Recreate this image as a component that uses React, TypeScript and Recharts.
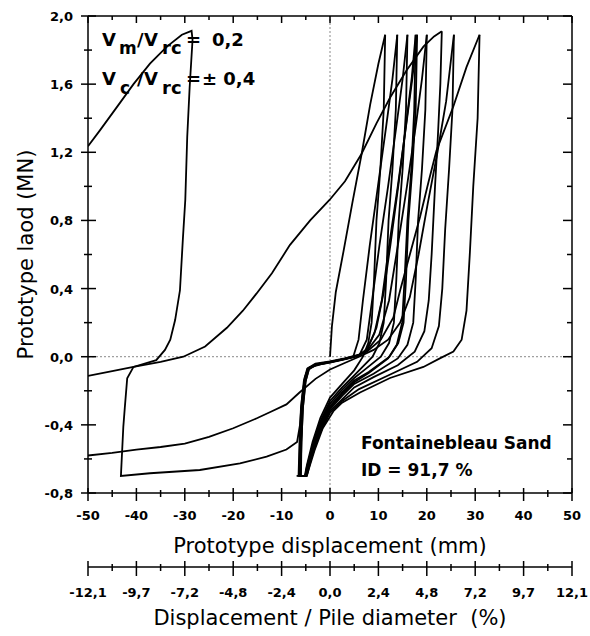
import { Label, Line, LineChart, ReferenceLine, XAxis, YAxis } from 'recharts';

type Pt = [number, number];

// axes
const X_TICKS = [-50, -45, -40, -35, -30, -25, -20, -15, -10, -5, 0, 5, 10, 15, 20, 25, 30, 35, 40, 45, 50];
const Y_TICKS = [-0.8, -0.6, -0.4, -0.2, 0, 0.2, 0.4, 0.6, 0.8, 1.0, 1.2, 1.4, 1.6, 1.8, 2.0];
const PCT_LABELS = ['-12,1', '-9,7', '-7,2', '-4,8', '-2,4', '0,0', '2,4', '4,8', '7,2', '9,7', '12,1'];

// first loading from the origin, then the small cycles (displacement mm, load MN)
const firstLoading: Pt[] = [[0, 0], [0.4, 0.18], [1.2, 0.38], [2.8, 0.62], [4.6, 0.9], [6.6, 1.2], [8.3, 1.48], [10, 1.72], [11.4, 1.89]];
const unload1: Pt[] = [[11.4, 1.89], [11.1, 1.45], [10.4, 1.1], [9.6, 0.8], [9.1, 0.45], [8.6, 0.2], [7.9, 0.08], [6.8, 0], [5, -0.08], [2.5, -0.16], [0, -0.24], [-2, -0.36], [-3.6, -0.5], [-4.8, -0.64], [-5.2, -0.7], [-6.2, -0.7]];
const reload2: Pt[] = [[-6.2, -0.7], [-6.0, -0.5], [-5.7, -0.3], [-5.2, -0.15], [-4.5, -0.07], [-3, -0.045], [0, -0.03], [3, -0.012], [4.8, 0], [5.9, 0.1], [6.8, 0.33], [8.2, 0.65], [9.9, 1.0], [11.6, 1.35], [12.9, 1.63], [13.9, 1.89]];
const unload2: Pt[] = [[13.9, 1.89], [13.6, 1.45], [12.9, 1.1], [12.1, 0.8], [11.6, 0.45], [11.1, 0.2], [10.2, 0.08], [8.8, 0], [5, -0.11], [2.5, -0.18], [0, -0.26], [-2, -0.38], [-3.6, -0.52], [-4.8, -0.65], [-5.1, -0.7], [-6.0, -0.7]];
const reload3: Pt[] = [[-6.0, -0.7], [-5.9, -0.5], [-5.6, -0.3], [-5.1, -0.15], [-4.4, -0.075], [-3, -0.05], [0, -0.035], [3, -0.015], [6, 0.005], [7.6, 0.1], [8.7, 0.33], [10.2, 0.65], [12, 1.0], [13.7, 1.35], [15, 1.63], [16, 1.89]];
const unload3: Pt[] = [[16, 1.89], [15.7, 1.45], [15, 1.1], [14.2, 0.8], [13.7, 0.45], [13.2, 0.2], [12.2, 0.08], [10.5, 0], [7, -0.08], [5, -0.125], [2.5, -0.195], [0, -0.275], [-2, -0.39], [-3.7, -0.54], [-4.8, -0.66], [-5.1, -0.7], [-6.4, -0.7]];
const reload4: Pt[] = [[-6.4, -0.7], [-6.2, -0.5], [-5.9, -0.3], [-5.3, -0.14], [-4.6, -0.07], [-3, -0.045], [0, -0.03], [3, -0.012], [6, 0.01], [7.6, 0.04], [9.2, 0.14], [10.7, 0.33], [12.2, 0.65], [14, 1.0], [15.7, 1.35], [17, 1.63], [18, 1.89]];
const unload4: Pt[] = [[18, 1.89], [17.7, 1.45], [17, 1.1], [16.2, 0.8], [15.7, 0.45], [15.2, 0.2], [14.1, 0.08], [12.3, 0], [8, -0.09], [5, -0.14], [2.5, -0.21], [0, -0.29], [-2.1, -0.41], [-3.8, -0.56], [-4.8, -0.67], [-5.0, -0.7], [-6.1, -0.7]];
const reload5: Pt[] = [[-6.1, -0.7], [-5.9, -0.5], [-5.6, -0.3], [-5.0, -0.14], [-4.3, -0.07], [-3, -0.05], [0, -0.032], [3, -0.014], [6, 0.008], [7.8, 0.05], [9.6, 0.17], [11.1, 0.38], [12.5, 0.66], [14.1, 1.0], [15.7, 1.36], [16.9, 1.64], [17.7, 1.89]];
const unload5: Pt[] = [[17.7, 1.89], [17.4, 1.45], [16.8, 1.1], [16, 0.8], [15.4, 0.45], [14.9, 0.2], [13.8, 0.07], [12, -0.01], [8, -0.095], [5, -0.15], [2.5, -0.22], [0, -0.3], [-2.2, -0.42], [-3.9, -0.57], [-4.9, -0.68], [-5.1, -0.7], [-6.5, -0.7]];
const reload6: Pt[] = [[-6.5, -0.7], [-6.3, -0.5], [-6.0, -0.3], [-5.4, -0.14], [-4.7, -0.07], [-3, -0.04], [0, -0.028], [3, -0.01], [6, 0.012], [7.8, 0.04], [10.2, 0.13], [12.2, 0.33], [14, 0.65], [15.9, 1.0], [17.7, 1.35], [19, 1.63], [20, 1.89]];
const unload6: Pt[] = [[20, 1.89], [19.7, 1.45], [19, 1.1], [18.2, 0.8], [17.7, 0.45], [17.2, 0.2], [16, 0.07], [14, -0.01], [9, -0.1], [5, -0.16], [2.5, -0.23], [0, -0.31], [-2.2, -0.43], [-3.9, -0.58], [-4.9, -0.69], [-5.0, -0.7], [-6.2, -0.7]];

// long branches entering from the left edge
const leftLoop: Pt[] = [[-50, 1.236], [-47.5, 1.33], [-43.4, 1.49], [-40.6, 1.6], [-37.2, 1.72], [-33.7, 1.82], [-30.6, 1.89], [-28.6, 1.913], [-28.4, 1.86], [-29, 1.58], [-29.5, 1.29], [-29.9, 0.92], [-30.4, 0.69], [-31, 0.39], [-32, 0.215], [-33, 0.1], [-34.1, 0.04], [-35.9, -0.02], [-40.6, -0.06], [-41.9, -0.127], [-42.4, -0.3], [-42.7, -0.41], [-43.2, -0.7], [-37.2, -0.684], [-26.9, -0.665], [-18.6, -0.626], [-13.1, -0.587], [-9, -0.545], [-6.8, -0.5], [-6.2, -0.4], [-5.8, -0.25], [-5.2, -0.12], [-4.4, -0.065], [-2, -0.045], [2, -0.02], [5, 0], [7.6, 0.03], [10.5, 0.1], [13.1, 0.23], [14.5, 0.39], [16.5, 0.6], [18.6, 0.82], [20.3, 1.02], [22, 1.21], [25.5, 1.47], [28.2, 1.7], [30.9, 1.89]];
const unloadWide: Pt[] = [[30.9, 1.89], [30.5, 1.4], [29.6, 1.0], [28.9, 0.61], [28.2, 0.27], [27.2, 0.1], [25.5, 0.03], [22.7, -0.01], [19.3, -0.06], [12.4, -0.125], [6.2, -0.21], [2.5, -0.27], [0.7, -0.32], [-1.5, -0.42], [-3.2, -0.55], [-4.4, -0.66], [-4.8, -0.7], [-5.8, -0.7]];
const lowBranch: Pt[] = [[-50, -0.58], [-45, -0.565], [-40, -0.545], [-35, -0.53], [-30, -0.51], [-25, -0.47], [-20, -0.42], [-15, -0.36], [-12, -0.32], [-9, -0.28], [-6.3, -0.21], [-3, -0.13], [0, -0.075], [2.8, -0.04], [6, 0], [9, 0.04], [12, 0.1], [14.5, 0.2], [16.5, 0.35], [18.3, 0.6], [20.2, 0.9], [22.2, 1.2], [24, 1.5], [25.6, 1.89]];
const unloadLow: Pt[] = [[25.6, 1.89], [25.3, 1.45], [24.6, 1.1], [23.8, 0.75], [23.2, 0.4], [22.5, 0.18], [21, 0.05], [18, -0.03], [12, -0.11], [6, -0.19], [2.5, -0.26], [0, -0.33], [-2.3, -0.46], [-3.9, -0.6], [-4.7, -0.69], [-4.8, -0.7], [-6.9, -0.7]];
const midBranch: Pt[] = [[-50, -0.113], [-45, -0.085], [-40.6, -0.06], [-35, -0.03], [-30.3, 0], [-25.8, 0.06], [-21.3, 0.17], [-18, 0.27], [-15.2, 0.37], [-12, 0.49], [-8.3, 0.655], [-4.1, 0.8], [-0.1, 0.92], [3.1, 1.03], [6.5, 1.19], [9.6, 1.37], [12.4, 1.52], [15.8, 1.68], [19.3, 1.82], [21.5, 1.88], [23.1, 1.91]];
const unloadMid: Pt[] = [[23.1, 1.91], [22.8, 1.6], [22.3, 1.3], [21.7, 1.0], [21, 0.6], [20.4, 0.33], [19.5, 0.15], [17.5, 0.03], [14, -0.05], [9, -0.12], [5, -0.18], [2.5, -0.25], [0, -0.32], [-2.3, -0.45], [-3.9, -0.59], [-4.8, -0.69], [-4.9, -0.7], [-6.7, -0.7]];

const PATHS: Pt[][] = [
  firstLoading, unload1, reload2, unload2, reload3, unload3, reload4, unload4, reload5, unload5, reload6, unload6,
  leftLoop, unloadWide, lowBranch, unloadLow, midBranch, unloadMid,
];

const FONT = '"DejaVu Sans", sans-serif';
const toRows = (p: Pt[]) => p.map(([x, y]) => ({ x, y }));

function MmTick({ x, y, index, payload }: any) {
  const major = index % 2 === 0;
  return (
    <g>
      <line x1={x} x2={x} y1={y - (major ? 5 : 3)} y2={y + (major ? 8 : 4)} stroke="#000" strokeWidth={1.5} />
      {major && (
        <text x={x} y={y + 27} textAnchor="middle" fontFamily={FONT} fontWeight="bold" fontSize={13} fill="#000">
          {payload.value}
        </text>
      )}
    </g>
  );
}

function PctTick({ x, y, index }: any) {
  const major = index % 2 === 0;
  return (
    <g>
      <line x1={x} x2={x} y1={y - (major ? 6 : 3)} y2={y + (major ? 9 : 4)} stroke="#000" strokeWidth={1.5} />
      {major && (
        <text x={x} y={y + 30} textAnchor="middle" fontFamily={FONT} fontWeight="bold" fontSize={13} fill="#000">
          {PCT_LABELS[index / 2]}
        </text>
      )}
    </g>
  );
}

function TopTick({ x, y, index }: any) {
  const major = index % 2 === 0;
  return <line x1={x} x2={x} y1={y} y2={y + (major ? 7 : 4)} stroke="#000" strokeWidth={1.5} />;
}

function LoadTick({ x, y, index, payload }: any) {
  const major = index % 2 === 0;
  return (
    <g>
      <line x1={x - (major ? 7 : 4)} x2={x + (major ? 8 : 4)} y1={y} y2={y} stroke="#000" strokeWidth={1.5} />
      {major && (
        <text x={x - 15} y={y + 5} textAnchor="end" fontFamily={FONT} fontWeight="bold" fontSize={13} fill="#000">
          {Number(payload.value).toFixed(1).replace('.', ',')}
        </text>
      )}
    </g>
  );
}

function RightTick({ x, y, index }: any) {
  const major = index % 2 === 0;
  return <line x1={x - (major ? 9 : 5)} x2={x} y1={y} y2={y} stroke="#000" strokeWidth={1.5} />;
}

const axisLine = { stroke: '#000', strokeWidth: 1.5 };
const bold = { fontFamily: FONT, fontWeight: 'bold' as const, fill: '#000' };

export default function App() {
  return (
    <div style={{ position: 'absolute', left: 0, top: 0, width: 590, height: 636, background: '#fff' }}>
      <LineChart width={590} height={636} margin={{ top: 15, right: 17, bottom: 0, left: 0 }}>
        <XAxis
          dataKey="x"
          type="number"
          domain={[-50, 50]}
          allowDataOverflow
          ticks={X_TICKS}
          interval={0}
          height={74}
          tickSize={0}
          tickMargin={0}
          axisLine={axisLine}
          tickLine={false}
          tick={(p: any) => <MmTick {...p} />}
        >
          <Label value="Prototype displacement (mm)" position="insideBottom" offset={14} fontFamily={FONT} fontSize={21} fill="#000" />
        </XAxis>
        <XAxis
          xAxisId="pct"
          dataKey="x"
          type="number"
          domain={[-50, 50]}
          allowDataOverflow
          ticks={X_TICKS}
          interval={0}
          height={69}
          tickSize={0}
          tickMargin={0}
          axisLine={axisLine}
          tickLine={false}
          tick={(p: any) => <PctTick {...p} />}
        >
          <Label value={'Displacement / Pile diameter\u00a0 (%)'} position="insideBottom" offset={11} fontFamily={FONT} fontSize={21} fill="#000" />
        </XAxis>
        <XAxis
          xAxisId="top"
          dataKey="x"
          orientation="top"
          type="number"
          domain={[-50, 50]}
          allowDataOverflow
          ticks={X_TICKS}
          interval={0}
          height={1}
          tickSize={0}
          tickMargin={0}
          axisLine={axisLine}
          tickLine={false}
          tick={(p: any) => <TopTick {...p} />}
        />
        <YAxis
          type="number"
          domain={[-0.8, 2.0]}
          allowDataOverflow
          ticks={Y_TICKS}
          interval={0}
          width={88}
          tickSize={0}
          tickMargin={0}
          axisLine={axisLine}
          tickLine={false}
          tick={(p: any) => <LoadTick {...p} />}
        >
          <Label
            value="Prototype laod (MN)"
            angle={-90}
            position="insideLeft"
            offset={26}
            fontFamily={FONT}
            fontSize={21}
            fill="#000"
            style={{ textAnchor: 'middle' }}
          />
        </YAxis>
        <YAxis
          yAxisId="right"
          orientation="right"
          type="number"
          domain={[-0.8, 2.0]}
          allowDataOverflow
          ticks={Y_TICKS}
          interval={0}
          width={1}
          tickSize={0}
          tickMargin={0}
          axisLine={axisLine}
          tickLine={false}
          tick={(p: any) => <RightTick {...p} />}
        />
        <ReferenceLine x={0} stroke="#888" strokeDasharray="2 2" strokeWidth={1} />
        <ReferenceLine y={0} stroke="#888" strokeDasharray="2 2" strokeWidth={1} />
        {PATHS.map((p, i) => (
          <Line
            key={i}
            data={toRows(p)}
            dataKey="y"
            type="linear"
            stroke="#000"
            strokeWidth={1.8}
            dot={false}
            activeDot={false}
            isAnimationActive={false}
          />
        ))}
        {/* the frame axes (top, right, % scale) read the first loading branch too, drawn invisibly */}
        <Line xAxisId="pct" data={toRows(firstLoading)} dataKey="y" stroke="none" dot={false} activeDot={false} isAnimationActive={false} />
        <Line xAxisId="top" yAxisId="right" data={toRows(firstLoading)} dataKey="y" stroke="none" dot={false} activeDot={false} isAnimationActive={false} />
      </LineChart>
      <svg width={590} height={636} style={{ position: 'absolute', left: 0, top: 0, pointerEvents: 'none' }}>
        <g {...bold}>
          <text x={102} y={46} fontSize={18}>V</text>
          <text x={119} y={54} fontSize={17}>m</text>
          <text x={137} y={46} fontSize={18}>/</text>
          <text x={144} y={46} fontSize={18}>V</text>
          <text x={162} y={54} fontSize={18}>rc</text>
          <text x={186} y={46} fontSize={18}>=</text>
          <text x={212} y={46} fontSize={18}>0,2</text>

          <text x={102} y={85} fontSize={18}>V</text>
          <text x={120} y={94} fontSize={17}>c</text>
          <text x={137} y={85} fontSize={18}>/</text>
          <text x={144} y={85} fontSize={18}>V</text>
          <text x={162} y={94} fontSize={18}>rc</text>
          <text x={186} y={85} fontSize={18}>=</text>
          <text x={202} y={85} fontSize={18}>± 0,4</text>

          <text x={361} y={449} fontSize={17}>Fontainebleau Sand</text>
          <text x={361} y={476} fontSize={17}>ID = 91,7 %</text>
        </g>
      </svg>
    </div>
  );
}
